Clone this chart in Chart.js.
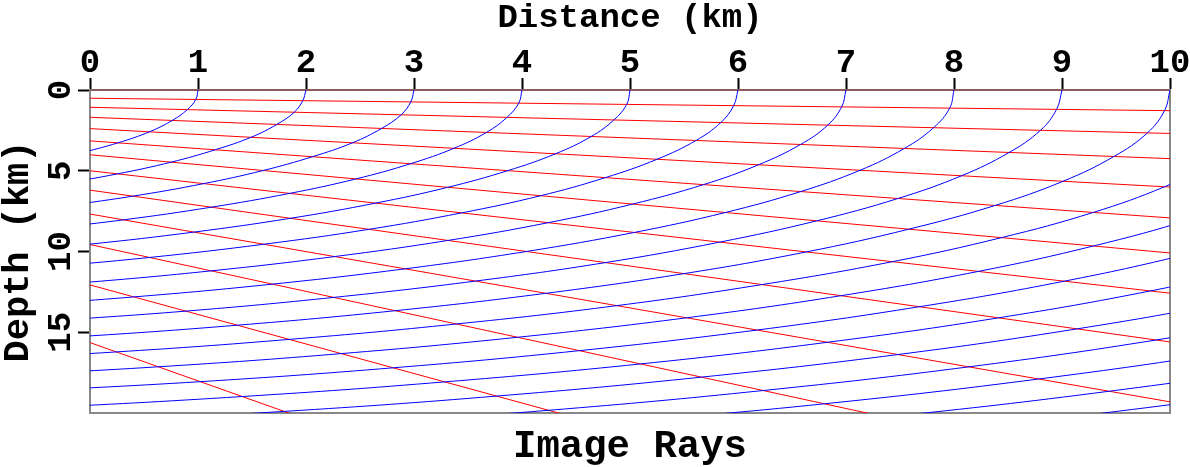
<!DOCTYPE html>
<html>
<head>
<meta charset="utf-8">
<script src="https://cdn.jsdelivr.net/npm/chart.js@4"></script>
<style>
html,body{margin:0;padding:0;background:#ffffff;}
#wrap{width:1190px;height:467px;position:relative;}
</style>
</head>
<body>
<div id="wrap"><canvas id="c" width="1190" height="467"></canvas></div>
<script>
// ---- data ----
const xTicks = [0, 1, 2, 3, 4, 5, 6, 7, 8, 9, 10];
const yTicks = [0, 5, 10, 15];

// red wavefront lines: depth where each crosses x = 0 and x = 10 (km)
const redEdgeX = [0, 10];
const redLeftDepth  = [0, 0.51, 1.07, 1.69, 2.39, 3.15, 4.01, 5.00, 6.20, 7.68, 9.57, 12.07, 15.64];
const redRightDepth = [0, 1.28, 2.69, 4.25, 6.01, 7.92, 10.09, 12.58, 15.60, 19.31, 24.07, 30.35, 39.34];

// blue image rays: sampled points (distance km, depth km)
const rayX = [
  [1, 0.98, 0.90, 0.76, 0.55, 0.26, -0.11],
  [2, 1.97, 1.89, 1.73, 1.49, 1.16, 0.75, 0.25, -0.33],
  [3, 2.97, 2.88, 2.70, 2.43, 2.06, 1.60, 1.05, 0.39, -0.34],
  [4, 3.97, 3.86, 3.67, 3.37, 2.97, 2.46, 1.85, 1.12, 0.31, -0.58],
  [5, 4.97, 4.85, 4.64, 4.31, 3.87, 3.31, 2.64, 1.85, 0.96, -0.01, -1.03],
  [6, 5.96, 5.84, 5.61, 5.25, 4.77, 4.17, 3.44, 2.58, 1.61, 0.55, -0.55],
  [7, 6.96, 6.83, 6.58, 6.19, 5.68, 5.02, 4.24, 3.31, 2.27, 1.12, -0.07, -1.31],
  [8, 7.96, 7.81, 7.54, 7.13, 6.58, 5.88, 5.04, 4.04, 2.92, 1.69, 0.41, -0.92],
  [9, 8.95, 8.80, 8.51, 8.07, 7.48, 6.73, 5.83, 4.77, 3.57, 2.26, 0.89, -0.54],
  [10, 9.95, 9.79, 9.48, 9.01, 8.38, 7.58, 6.63, 5.50, 4.22, 2.82, 1.37, -0.15, -1.75],
  [10.77, 10.45, 9.95, 9.29, 8.44, 7.43, 6.22, 4.88, 3.39, 1.85, 0.24, -1.45],
  [11.42, 10.89, 10.19, 9.29, 8.22, 6.95, 5.53, 3.96, 2.33, 0.63, -1.16],
  [11.83, 11.09, 10.15, 9.02, 7.68, 6.18, 4.53, 2.81, 1.02, -0.87],
  [11.99, 11.00, 9.82, 8.41, 6.83, 5.10, 3.29, 1.41, -0.58, -2.67],
  [12.90, 11.86, 10.61, 9.14, 7.48, 5.66, 3.77, 1.80, -0.29],
  [12.71, 11.41, 9.87, 8.14, 6.23, 4.25, 2.19],
  [12.21, 10.60, 8.79, 6.80, 4.73],
  [13.00, 11.32, 9.44, 7.37, 5.21],
  [12.05, 10.09, 7.93, 5.69]
];
const rayZ = [
  [0, 0.58, 1.22, 1.89, 2.59, 3.27, 3.95],
  [0, 0.66, 1.38, 2.13, 2.93, 3.70, 4.47, 5.20, 5.89],
  [0, 0.74, 1.54, 2.38, 3.27, 4.13, 4.99, 5.80, 6.58, 7.28],
  [0, 0.81, 1.70, 2.63, 3.61, 4.56, 5.51, 6.40, 7.26, 8.04, 8.73],
  [0, 0.89, 1.86, 2.88, 3.95, 4.99, 6.03, 7.01, 7.95, 8.80, 9.55, 10.18],
  [0, 0.97, 2.02, 3.13, 4.29, 5.43, 6.55, 7.61, 8.63, 9.55, 10.37, 11.05],
  [0, 1.04, 2.18, 3.37, 4.63, 5.86, 7.07, 8.22, 9.32, 10.31, 11.20, 11.93, 12.53],
  [0, 1.12, 2.34, 3.62, 4.97, 6.29, 7.59, 8.82, 10.00, 11.07, 12.02, 12.81, 13.45],
  [0, 1.20, 2.50, 3.87, 5.31, 6.72, 8.10, 9.42, 10.69, 11.83, 12.84, 13.69, 14.37],
  [0, 1.27, 2.66, 4.12, 5.65, 7.15, 8.62, 10.03, 11.37, 12.59, 13.67, 14.56, 15.29, 15.88],
  [2.81, 4.37, 5.99, 7.58, 9.14, 10.63, 12.05, 13.35, 14.49, 15.44, 16.22, 16.83],
  [4.61, 6.33, 8.01, 9.66, 11.24, 12.74, 14.10, 15.31, 16.32, 17.14, 17.79],
  [6.67, 8.44, 10.18, 11.84, 13.42, 14.86, 16.14, 17.20, 18.06, 18.74],
  [8.87, 10.70, 12.44, 14.11, 15.62, 16.96, 18.07, 18.98, 19.70, 20.22],
  [9.30, 11.22, 13.05, 14.79, 16.38, 17.78, 18.95, 19.90, 20.66],
  [11.74, 13.65, 15.48, 17.14, 18.61, 19.83, 20.82],
  [14.26, 16.16, 17.89, 19.43, 20.71],
  [14.86, 16.85, 18.65, 20.25, 21.58],
  [17.53, 19.41, 21.07, 22.46]
];

const titleTop = 'Distance (km)';
const titleLeft = 'Depth (km)';
const titleBottom = 'Image Rays';

// ---- chart ----
const FONT = '"Liberation Mono", "DejaVu Sans Mono", monospace';
const datasets = [];
rayX.forEach((xs, i) => {
  datasets.push({
    data: xs.map((x, j) => ({x: x, y: rayZ[i][j]})),
    borderColor: '#0000ff',
    borderWidth: 1,
    tension: 0.4,
    pointRadius: 0,
    showLine: true,
    fill: false
  });
});
redLeftDepth.forEach((zl, i) => {
  datasets.push({
    data: [{x: redEdgeX[0], y: zl}, {x: redEdgeX[1], y: redRightDepth[i]}],
    borderColor: zl === 0 ? '#8b5a5a' : '#ff0000',
    borderWidth: zl === 0 ? 2 : 1,
    tension: 0,
    pointRadius: 0,
    showLine: true,
    fill: false
  });
});

const tickFont = {family: FONT, size: 34, weight: 'bold', lineHeight: 1};
const gridOpts = {display: true, drawOnChartArea: false, drawTicks: true, tickLength: 12, tickColor: '#000000', tickWidth: 2};

new Chart(document.getElementById('c'), {
  type: 'scatter',
  data: {datasets: datasets},
  options: {
    responsive: false,
    animation: false,
    devicePixelRatio: 1,
    layout: {padding: 0},
    elements: {line: {capBezierPoints: false}, point: {radius: 0}},
    plugins: {legend: {display: false}, tooltip: {enabled: false}, title: {display: false}},
    scales: {
      x: {
        type: 'linear', position: 'top', min: 0, max: 10,
        afterBuildTicks: s => { s.ticks = xTicks.map(v => ({value: v})); },
        afterFit: s => { s.height = 90; },
        ticks: {font: tickFont, color: '#000000', padding: -2, autoSkip: false, minRotation: 0, maxRotation: 0},
        grid: gridOpts,
        border: {display: true, color: '#8b5a5a', width: 2},
        title: {display: true, text: titleTop, color: '#000000', font: {family: FONT, size: 34, weight: 'bold', lineHeight: 1}, padding: {top: 1, bottom: 0}}
      },
      x2: {
        type: 'linear', position: 'bottom', min: 0, max: 10,
        afterFit: s => { s.height = 54; },
        ticks: {display: false},
        grid: {display: false},
        border: {display: true, color: '#888888', width: 2},
        title: {display: true, text: titleBottom, color: '#000000', font: {family: FONT, size: 39, weight: 'bold', lineHeight: 1}, padding: {top: 0, bottom: 0}}
      },
      y: {
        type: 'linear', position: 'left', reverse: true, min: 0, max: 20,
        afterBuildTicks: s => { s.ticks = yTicks.map(v => ({value: v})); },
        afterFit: s => { s.width = 90; },
        ticks: {font: tickFont, color: '#000000', padding: -4, autoSkip: false, minRotation: 90, maxRotation: 90, crossAlign: 'center'},
        grid: gridOpts,
        border: {display: true, color: '#888888', width: 2},
        title: {display: true, text: titleLeft, color: '#000000', font: {family: FONT, size: 37, weight: 'bold', lineHeight: 1}, padding: {top: 0, bottom: 0}}
      },
      y2: {
        type: 'linear', position: 'right', reverse: true, min: 0, max: 20,
        afterFit: s => { s.width = 20; },
        ticks: {display: false},
        grid: {display: false},
        border: {display: true, color: '#888888', width: 2}
      }
    }
  }
});
</script>
</body>
</html>
